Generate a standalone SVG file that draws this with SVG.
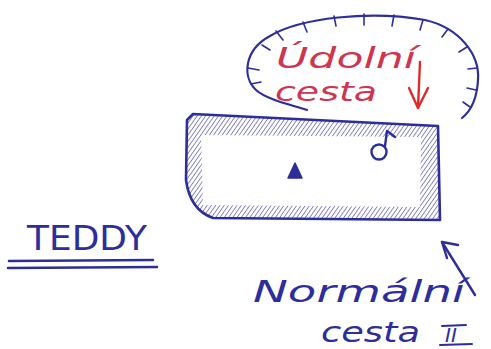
<svg xmlns="http://www.w3.org/2000/svg" width="491" height="349" viewBox="0 0 491 349">
<style>
.blue{stroke:#2d2d9c;fill:none;stroke-linecap:round;stroke-linejoin:round}
.red{fill:#d0354f;font-family:"DejaVu Sans","Liberation Sans",sans-serif;font-style:italic}
.bt{fill:#2d2d9c;font-family:"DejaVu Sans","Liberation Sans",sans-serif}
</style>
<defs>
<pattern id="hatch" width="3.5" height="3.5" patternUnits="userSpaceOnUse" patternTransform="rotate(35)">
<line x1="0" y1="0" x2="0" y2="3.5" stroke="#3c3cb0" stroke-width="1.4" opacity="0.85"/>
</pattern>
</defs>
<rect width="491" height="349" fill="#ffffff"/>
<!-- cliff arc with hachures -->
<g id="cliff">
<path class="blue" stroke-width="2.2" d="M307,110 C288,104 266,99 256,90 C242,77 244,50 270,36 C300,18 370,10 425,20 C460,28 480,55 478,80 C477,98 472,110 462,118"/>
<g class="blue" stroke-width="1.6">
<line x1="248" y1="68" x2="259" y2="70"/>
<line x1="251" y1="84" x2="261" y2="82"/>
<line x1="262" y1="45" x2="270" y2="50"/>
<line x1="276" y1="31" x2="283" y2="40"/>
<line x1="303" y1="22" x2="307" y2="32"/>
<line x1="334" y1="16" x2="336" y2="26"/>
<line x1="364" y1="14" x2="364" y2="25"/>
<line x1="394" y1="15" x2="392" y2="26"/>
<line x1="423" y1="20" x2="420" y2="30"/>
<line x1="448" y1="29" x2="442" y2="37"/>
<line x1="467" y1="47" x2="459" y2="52"/>
<line x1="477" y1="68" x2="468" y2="69"/>
<line x1="476" y1="90" x2="467" y2="88"/>
<line x1="470" y1="107" x2="463" y2="102"/>
</g>
</g>
<!-- block -->
<g id="block">
<path fill="url(#hatch)" fill-rule="evenodd" d="M193,114 L438,126 L440,220 L213,218 Q190,210 186,180 L187,120 Z M201,135 L421,137 L420,207 L203,205 Z"/>
<path class="blue" stroke-width="2.6" d="M193,114 L438,126 L440,220 L213,218 Q190,210 186,180 L187,120 Z"/>
<polygon points="295,163 288,178 302,178" fill="#2d2d9c" stroke="#2d2d9c" stroke-width="1.5" stroke-linejoin="round"/>
<g class="blue" stroke-width="2.4">
<circle cx="379" cy="152" r="7.5"/>
<path d="M385,146 L387,131 L395,137"/>
</g>
</g>
<!-- labels -->
<g id="udolni">
<text class="red" x="276" y="68" font-size="29" textLength="140" lengthAdjust="spacingAndGlyphs">Údolní</text>
<text class="red" x="275" y="101" font-size="27" textLength="102" lengthAdjust="spacingAndGlyphs">cesta</text>
</g>
<g id="teddy">
<text class="bt" x="27" y="250" font-size="33" textLength="120" lengthAdjust="spacingAndGlyphs">TEDDY</text>
<line class="blue" stroke-width="2.6" x1="9" y1="261" x2="153" y2="260"/>
<line class="blue" stroke-width="2.6" x1="8" y1="268" x2="157" y2="267"/>
</g>
<g id="normalni">
<text class="bt" x="253" y="302" font-size="31" font-style="italic" textLength="212" lengthAdjust="spacingAndGlyphs">Normální</text>
<text class="bt" x="321" y="342" font-size="29" font-style="italic" textLength="99" lengthAdjust="spacingAndGlyphs">cesta</text>
<text class="bt" x="445" y="342" font-size="20" font-style="italic">II</text>
<line class="blue" stroke-width="2" x1="442" y1="326" x2="466" y2="325"/>
<line class="blue" stroke-width="2" x1="440" y1="345" x2="472" y2="344"/>
</g>
<!-- connectors -->
<g id="connectors">
<g stroke="#e02a2a" stroke-width="2.4" fill="none" stroke-linecap="round" stroke-linejoin="round">
<path d="M420,62 L418,108"/>
<path d="M409,88 L418,108 L428,88"/>
</g>
<g class="blue" stroke-width="2.4">
<path d="M475,295 L442,242"/>
<path d="M447,258 L442,242 L458,245"/>
</g>
</g>
</svg>
